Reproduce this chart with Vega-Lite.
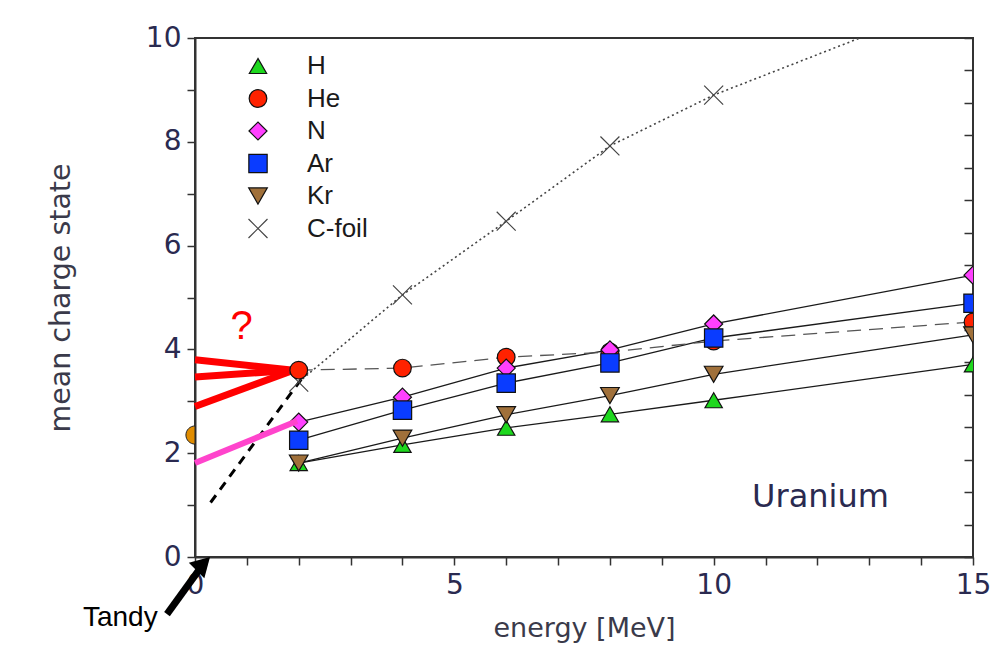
{
  "$schema": "https://vega.github.io/schema/vega-lite/v6.json",
  "width": 778,
  "height": 519,
  "autosize": {"type": "none"},
  "padding": {"left": 195, "top": 38, "right": 27, "bottom": 89},
  "background": "white",
  "config": {
    "view": {"stroke": "#333333", "strokeWidth": 2},
    "font": "DejaVu Sans"
  },
  "datasets": {
    "pts": [
      {"s": "C-foil", "x": 2, "y": 3.37}, {"s": "C-foil", "x": 4, "y": 5.05}, {"s": "C-foil", "x": 6, "y": 6.47},
      {"s": "C-foil", "x": 8, "y": 7.92}, {"s": "C-foil", "x": 10, "y": 8.9}, {"s": "C-foil", "x": 15, "y": 10.85},
      {"s": "H", "x": 2, "y": 1.81}, {"s": "H", "x": 4, "y": 2.16}, {"s": "H", "x": 6, "y": 2.49},
      {"s": "H", "x": 8, "y": 2.75}, {"s": "H", "x": 10, "y": 3.02}, {"s": "H", "x": 15, "y": 3.71},
      {"s": "He", "x": 2, "y": 3.6}, {"s": "He", "x": 4, "y": 3.64}, {"s": "He", "x": 6, "y": 3.85},
      {"s": "He", "x": 8, "y": 3.95}, {"s": "He", "x": 10, "y": 4.16}, {"s": "He", "x": 15, "y": 4.53},
      {"s": "N", "x": 2, "y": 2.6}, {"s": "N", "x": 4, "y": 3.08}, {"s": "N", "x": 6, "y": 3.64},
      {"s": "N", "x": 8, "y": 3.99}, {"s": "N", "x": 10, "y": 4.49}, {"s": "N", "x": 15, "y": 5.43},
      {"s": "Ar", "x": 2, "y": 2.25}, {"s": "Ar", "x": 4, "y": 2.83}, {"s": "Ar", "x": 6, "y": 3.35},
      {"s": "Ar", "x": 8, "y": 3.74}, {"s": "Ar", "x": 10, "y": 4.22}, {"s": "Ar", "x": 15, "y": 4.89},
      {"s": "Kr", "x": 2, "y": 1.81}, {"s": "Kr", "x": 4, "y": 2.29}, {"s": "Kr", "x": 6, "y": 2.74},
      {"s": "Kr", "x": 8, "y": 3.11}, {"s": "Kr", "x": 10, "y": 3.52}, {"s": "Kr", "x": 15, "y": 4.28}
    ],
    "red": [
      {"g": "a", "x": 0, "y": 3.8}, {"g": "a", "x": 1.9, "y": 3.6},
      {"g": "b", "x": 0, "y": 3.47}, {"g": "b", "x": 1.9, "y": 3.6},
      {"g": "c", "x": 0, "y": 2.9}, {"g": "c", "x": 1.9, "y": 3.6}
    ],
    "pink": [{"x": 0, "y": 1.81}, {"x": 1.97, "y": 2.62}],
    "dash": [{"x": 2.06, "y": 3.44}, {"x": 0.3, "y": 1.05}],
    "orange": [{"x": 0, "y": 2.35}],
    "arrow": [{"x": -0.54, "y": -1.1}, {"x": 0.12, "y": -0.19}],
    "head": [{"x": 0.16, "y": -0.13}],
    "q": [{"x": 0.9, "y": 4.43, "t": "?"}],
    "tandy": [{"x": -1.44, "y": -1.18, "t": "Tandy"}],
    "uranium": [{"x": 12.06, "y": 1.16, "t": "Uranium"}]
  },
  "layer": [
    {
      "layer": [
        {
          "data": {"name": "pts"},
          "transform": [{"filter": "indexof(['H','N','Ar','Kr'], datum.s) >= 0"}],
          "mark": {"type": "line", "stroke": "#1a1a1a", "strokeWidth": 1.3},
          "encoding": {
            "x": {
              "field": "x", "type": "quantitative",
              "scale": {"domain": [0, 15], "nice": false, "zero": false},
              "axis": {
                "title": "energy [MeV]",
                "values": [0, 1, 2, 3, 4, 5, 6, 7, 8, 9, 10, 11, 12, 13, 14, 15],
                "labelExpr": "datum.value % 5 === 0 ? datum.label : ''",
                "labelOverlap": false, "labelFlush": false,
                "grid": false,
                "domainColor": "#333333", "domainWidth": 2,
                "tickColor": "#333333", "tickWidth": 1.5, "tickSize": 8,
                "labelPadding": 6,
                "labelFont": "DejaVu Sans",
                "labelFontSize": 28, "labelColor": "#2a2a50",
                "titleFont": "DejaVu Sans", "titleFontSize": 27, "titleFontWeight": "normal",
                "titleColor": "#3a3a4a", "titlePadding": 16,
                "encode": {"ticks": {"update": {
                  "y": {"signal": "datum.value % 5 === 0 ? -10 : -6"},
                  "y2": {"signal": "datum.value % 5 === 0 ? 10 : 6"}
                }}}
              }
            },
            "y": {
              "field": "y", "type": "quantitative",
              "scale": {"domain": [0, 10], "nice": false, "zero": false},
              "axis": {
                "title": "mean charge state",
                "values": [0, 1, 2, 3, 4, 5, 6, 7, 8, 9, 10],
                "labelExpr": "datum.value % 2 === 0 ? datum.label : ''",
                "labelOverlap": false, "labelFlush": false,
                "grid": false,
                "domainColor": "#333333", "domainWidth": 2,
                "tickColor": "#333333", "tickWidth": 1.5, "tickSize": 8,
                "labelPadding": 6,
                "labelFont": "DejaVu Sans",
                "labelFontSize": 28, "labelColor": "#2a2a50",
                "titleFont": "DejaVu Sans", "titleFontSize": 28.5, "titleFontWeight": "normal",
                "titleColor": "#3a3a4a", "titlePadding": 70,
                "encode": {"ticks": {"update": {
                  "x": {"signal": "datum.value % 2 === 0 ? 9 : 4"},
                  "x2": {"signal": "datum.value % 2 === 0 ? -13 : -6"}
                }}}
              }
            },
            "detail": {"field": "s"}
          }
        },
        {
          "data": {"name": "pts"},
          "transform": [{"filter": "datum.s === 'He'"}],
          "mark": {"type": "line", "stroke": "#555555", "strokeWidth": 1.3, "strokeDash": [14, 8]},
          "encoding": {
            "x": {"field": "x", "type": "quantitative"},
            "y": {"field": "y", "type": "quantitative"}
          }
        },
        {
          "data": {"name": "pts"},
          "transform": [{"filter": "datum.s === 'C-foil'"}],
          "mark": {"type": "line", "stroke": "#444444", "strokeWidth": 1.6, "strokeDash": [2, 3], "clip": true},
          "encoding": {
            "x": {"field": "x", "type": "quantitative"},
            "y": {"field": "y", "type": "quantitative"}
          }
        },
        {
          "data": {"name": "red"},
          "mark": {"type": "line", "stroke": "#ff0000", "strokeWidth": 7, "strokeCap": "butt"},
          "encoding": {
            "x": {"field": "x", "type": "quantitative"},
            "y": {"field": "y", "type": "quantitative"},
            "detail": {"field": "g"}
          }
        },
        {
          "data": {"name": "dash"},
          "mark": {"type": "line", "stroke": "#000000", "strokeWidth": 3, "strokeDash": [9, 7]},
          "encoding": {
            "x": {"field": "x", "type": "quantitative"},
            "y": {"field": "y", "type": "quantitative"}
          }
        },
        {
          "data": {"name": "pts"},
          "mark": {"type": "point", "filled": true, "opacity": 1, "strokeWidth": 1.2, "clip": true},
          "encoding": {
            "x": {"field": "x", "type": "quantitative"},
            "y": {"field": "y", "type": "quantitative"},
            "shape": {
              "field": "s", "type": "nominal",
              "scale": {
                "domain": ["H", "He", "N", "Ar", "Kr", "C-foil"],
                "range": ["triangle-up", "circle", "diamond", "square", "triangle-down", "M-1,-1L1,1M1,-1L-1,1"]
              },
              "legend": {
                "title": null, "orient": "none", "legendX": 50, "legendY": 15,
                "padding": 0, "rowPadding": 6.5, "labelOffset": 36,
                "labelFont": "Liberation Sans", "labelFontSize": 26, "labelColor": "#1a1a1a",
                "symbolStrokeWidth": 1.2, "symbolOpacity": 1
              }
            },
            "fill": {
              "field": "s", "type": "nominal",
              "scale": {
                "domain": ["H", "He", "N", "Ar", "Kr", "C-foil"],
                "range": ["#1ed81e", "#ff2200", "#ff40ff", "#0a3cff", "#a0703a", "transparent"]
              },
              "legend": {"title": null}
            },
            "stroke": {
              "field": "s", "type": "nominal",
              "scale": {
                "domain": ["H", "He", "N", "Ar", "Kr", "C-foil"],
                "range": ["#111111", "#111111", "#111111", "#111111", "#111111", "#444444"]
              },
              "legend": {"title": null}
            },
            "size": {
              "field": "s", "type": "nominal",
              "scale": {
                "domain": ["H", "He", "N", "Ar", "Kr", "C-foil"],
                "range": [300, 360, 330, 400, 300, 190]
              },
              "legend": {"title": null}
            }
          }
        },
        {
          "data": {"name": "pink"},
          "mark": {"type": "line", "stroke": "#ff44cc", "strokeWidth": 6, "strokeCap": "butt"},
          "encoding": {
            "x": {"field": "x", "type": "quantitative"},
            "y": {"field": "y", "type": "quantitative"}
          }
        },
        {
          "data": {"name": "orange"},
          "mark": {"type": "point", "filled": true, "opacity": 1, "fill": "#e08c00", "stroke": "#222222", "strokeWidth": 1,
                   "shape": "M0,-1A1,1 0 0,0 0,1Z", "size": 330},
          "encoding": {
            "x": {"field": "x", "type": "quantitative"},
            "y": {"field": "y", "type": "quantitative"}
          }
        },
        {
          "data": {"name": "arrow"},
          "mark": {"type": "line", "stroke": "#000000", "strokeWidth": 7, "strokeCap": "butt"},
          "encoding": {
            "x": {"field": "x", "type": "quantitative"},
            "y": {"field": "y", "type": "quantitative"}
          }
        },
        {
          "data": {"name": "head"},
          "mark": {"type": "point", "filled": true, "opacity": 1, "fill": "#000000", "strokeWidth": 0,
                   "shape": "triangle-up", "size": 480, "angle": 45},
          "encoding": {
            "x": {"field": "x", "type": "quantitative"},
            "y": {"field": "y", "type": "quantitative"}
          }
        },
        {
          "data": {"name": "q"},
          "mark": {"type": "text", "font": "Liberation Sans", "fontSize": 40, "color": "#ff0000", "baseline": "middle", "align": "center"},
          "encoding": {
            "x": {"field": "x", "type": "quantitative"},
            "y": {"field": "y", "type": "quantitative"},
            "text": {"field": "t"}
          }
        },
        {
          "data": {"name": "tandy"},
          "mark": {"type": "text", "font": "Liberation Sans", "fontSize": 28, "color": "#000000", "baseline": "middle", "align": "center"},
          "encoding": {
            "x": {"field": "x", "type": "quantitative"},
            "y": {"field": "y", "type": "quantitative"},
            "text": {"field": "t"}
          }
        }
      ]
    },
    {
      "data": {"name": "uranium"},
      "mark": {"type": "text", "font": "DejaVu Sans", "fontSize": 32, "color": "#2a2a50", "baseline": "middle", "align": "center"},
      "encoding": {
        "x": {"field": "x", "type": "quantitative"},
        "y": {
          "field": "y", "type": "quantitative",
          "axis": {
            "orient": "right", "title": null, "labels": false, "domain": false, "grid": false,
            "values": [0, 0.625, 1.25, 1.875, 2.5, 3.125, 3.75, 4.375, 5, 5.625, 6.25, 6.875, 7.5, 8.125, 8.75, 9.375, 10],
            "tickSize": -9, "tickColor": "#333333", "tickWidth": 1.5
          }
        },
        "text": {"field": "t"}
      }
    }
  ],
  "resolve": {"axis": {"y": "independent"}}
}
